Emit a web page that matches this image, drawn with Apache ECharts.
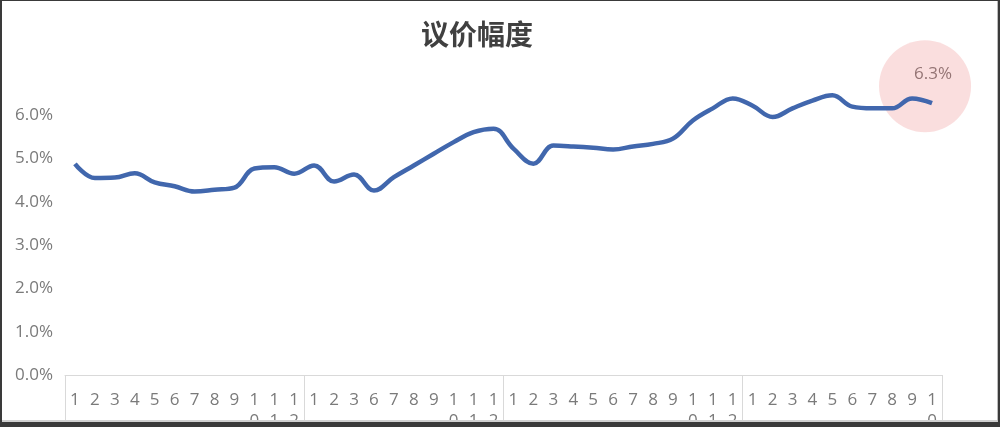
<!DOCTYPE html>
<html>
<head>
<meta charset="utf-8">
<script src="https://cdn.jsdelivr.net/npm/echarts@6/dist/echarts.min.js"></script>
<style>
  html, body { margin: 0; padding: 0; width: 1000px; height: 427px; overflow: hidden; background: #3a3a3a; }
  #frame { position: absolute; left: 2px; top: 1px; width: 995px; height: 419px; background: #ffffff; border-right: 1px solid #bdbdbd; border-bottom: 2px solid #d0d0d0; }
  #chart { position: absolute; left: 0; top: 0; width: 995px; height: 419px; }
</style>
</head>
<body>
<div id="frame"><div id="chart"></div></div>
<script>
// ---- data ----
const titleText = '议价幅度';
const months1 = ['1','2','3','4','5','6','7','8','9','10','11','12'];
const months2 = ['1','2','3','6','7','8','9','10','11','12'];
const months3 = ['1','2','3','4','5','6','7','8','9','10','11','12'];
const months4 = ['1','2','3','4','5','6','7','8','9','10'];
const values1 = [4.88, 4.55, 4.56, 4.66, 4.45, 4.36, 4.24, 4.28, 4.33, 4.77, 4.80, 4.65];
const values2 = [4.84, 4.47, 4.63, 4.26, 4.57, 4.84, 5.11, 5.38, 5.61, 5.69];
const values3 = [5.23, 4.88, 5.30, 5.28, 5.25, 5.21, 5.28, 5.34, 5.46, 5.88, 6.16, 6.39];
const values4 = [6.22, 5.96, 6.16, 6.34, 6.46, 6.20, 6.16, 6.16, 6.39, 6.28];
const yTicks = [0, 1, 2, 3, 4, 5, 6, 7];

// ---- derived ----
const groups = [months1, months2, months3, months4];
const categories = [].concat(months1, months2, months3, months4);
const values = [].concat(values1, values2, values3, values4);
const groupStarts = [];
let acc = 0;
groups.forEach(g => { groupStarts.push(acc); acc += g.length; });
const lastIdx = values.length - 1;

const chart = echarts.init(document.getElementById('chart'));
chart.setOption({
  animation: false,
  title: {
    text: titleText,
    left: 414,
    top: 14,
    textStyle: { fontFamily: 'Noto Sans CJK SC', fontSize: 28, fontWeight: 'bold', color: '#404040' }
  },
  grid: { left: 63, right: 55, top: 71, bottom: 45, containLabel: false, outerBoundsMode: 'none' },
  xAxis: {
    type: 'category',
    data: categories,
    boundaryGap: true,
    axisLine: { show: true, lineStyle: { color: '#d9d9d9', width: 1 } },
    axisTick: {
      show: true,
      length: 48,
      interval: function (idx) { return groupStarts.indexOf(idx) >= 0; },
      lineStyle: { color: '#d9d9d9', width: 1 }
    },
    axisLabel: {
      interval: 0,
      margin: 15,
      fontFamily: 'Open Sans',
      fontSize: 17,
      lineHeight: 21,
      color: '#7a7a7a',
      formatter: function (v) { return v.split('').join('\n'); }
    },
    splitLine: { show: false }
  },
  yAxis: {
    type: 'value',
    min: yTicks[0],
    max: yTicks[yTicks.length - 1],
    interval: 1,
    axisLine: { show: false },
    axisTick: { show: false },
    splitLine: { show: false },
    axisLabel: {
      showMaxLabel: false,
      margin: 12,
      fontFamily: 'Open Sans',
      fontSize: 17,
      color: '#7a7a7a',
      formatter: function (v) { return v.toFixed(1) + '%'; }
    }
  },
  series: [
    {
      type: 'scatter',
      z: 1,
      data: [[lastIdx, values[lastIdx]]],
      symbol: 'circle',
      symbolSize: 92,
      symbolOffset: [-7, -17],
      itemStyle: { color: 'rgba(246, 200, 200, 0.75)' },
      label: {
        show: true,
        position: 'inside',
        offset: [8, -12],
        fontFamily: 'Open Sans',
        fontSize: 17,
        color: '#7b5a5a',
        formatter: function (p) { return p.value[1].toFixed(1) + '%'; }
      },
      silent: true
    },
    {
      type: 'line',
      z: 3,
      data: values,
      smooth: 0.4,
      symbol: 'none',
      lineStyle: { color: '#4167ad', width: 4.5 }
    }
  ]
});
</script>
</body>
</html>
